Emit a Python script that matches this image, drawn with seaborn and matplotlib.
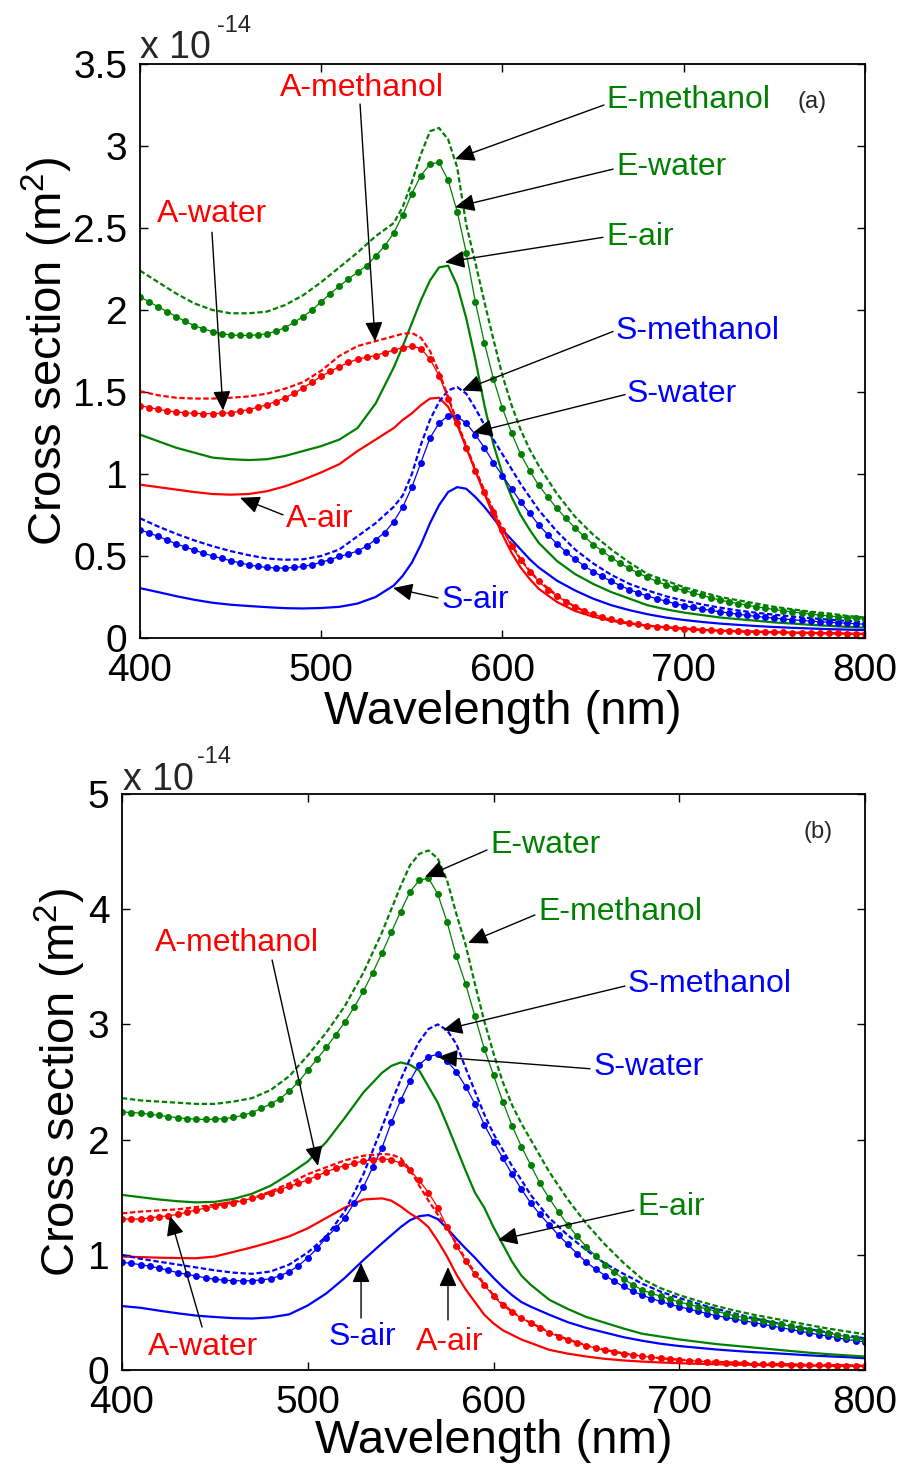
import numpy as np
import pandas as pd
import matplotlib
matplotlib.use("Agg")
import matplotlib.pyplot as plt
import seaborn as sns

# ---------------- data (cross section in units of 1e-14 m^2) ----------------
wl_fine = list(range(400, 801, 5))
wl_coarse = list(range(400, 541, 10)) + list(range(545, 621, 5)) + list(range(630, 801, 10))

# panel (a)
a_E_methanol = [2.24,2.17,2.10,2.04,2.00,1.98,1.98,1.99,2.03,2.09,2.17,2.26,2.35,2.45,2.53,
                2.63,2.78,2.95,3.09,3.11,3.04,2.87,2.52,2.29,2.05,1.82,1.60,1.42,1.27,1.15,1.05,
                0.88,0.74,0.63,0.54,0.46,0.39,0.35,0.31,0.28,0.25,0.23,0.21,0.19,0.175,0.16,0.15,0.135,0.125]
a_E_water = [2.08,2.05,2.02,1.99,1.96,1.93,1.905,1.885,1.868,1.856,
             1.848,1.845,1.845,1.848,1.856,1.87,1.893,1.925,1.96,2.00,
             2.05,2.10,2.145,2.19,2.23,2.27,2.33,2.39,2.47,2.58,
             2.71,2.82,2.89,2.90,2.79,2.60,2.35,2.05,1.80,1.58,
             1.40,1.25,1.12,1.02,0.93,0.86,0.79,0.73,0.67,0.62,
             0.57,0.53,0.49,0.455,0.425,0.395,0.37,0.345,0.325,0.305,
             0.29,0.275,0.26,0.245,0.232,0.22,0.21,0.20,0.19,0.182,
             0.174,0.166,0.159,0.152,0.146,0.14,0.134,0.129,0.124,0.119,
             0.115]
a_E_air = [1.24,1.20,1.16,1.13,1.10,1.09,1.085,1.09,1.11,1.14,1.17,1.21,1.28,1.43,1.65,
           1.78,1.92,2.06,2.18,2.26,2.27,2.15,1.95,1.70,1.42,1.18,1.00,0.86,0.75,0.66,0.58,
           0.47,0.39,0.33,0.28,0.24,0.20,0.175,0.155,0.14,0.125,0.115,0.105,0.095,0.088,0.08,0.074,0.068,0.063]
a_A_methanol = [1.505,1.48,1.465,1.46,1.46,1.465,1.473,1.49,1.52,1.56,1.63,1.72,1.78,1.81,1.84,
                1.855,1.86,1.83,1.75,1.62,1.47,1.32,1.17,1.03,0.90,0.78,0.67,0.57,0.48,0.41,0.35,
                0.26,0.19,0.14,0.11,0.09,0.075,0.065,0.057,0.05,0.045,0.041,0.038,0.035,0.033,0.031,0.029,0.027,0.025]
a_A_water = [1.417,1.405,1.395,1.385,1.378,1.373,1.37,1.368,1.368,1.37,
             1.373,1.382,1.393,1.407,1.423,1.442,1.464,1.492,1.525,1.56,
             1.596,1.626,1.654,1.68,1.70,1.712,1.722,1.74,1.755,1.77,
             1.78,1.765,1.70,1.60,1.46,1.31,1.16,1.02,0.89,0.77,
             0.66,0.56,0.475,0.405,0.345,0.295,0.255,0.222,0.19,0.165,
             0.145,0.128,0.113,0.101,0.091,0.083,0.076,0.07,0.065,0.061,
             0.057,0.053,0.05,0.047,0.045,0.043,0.041,0.039,0.037,0.036,
             0.035,0.034,0.033,0.032,0.031,0.03,0.029,0.028,0.027,0.026,
             0.025]
a_A_air = [0.935,0.92,0.905,0.89,0.878,0.874,0.878,0.895,0.925,0.965,1.01,1.06,1.14,1.21,1.28,
           1.33,1.37,1.42,1.46,1.465,1.41,1.30,1.16,1.02,0.88,0.75,0.63,0.52,0.43,0.36,0.30,
           0.22,0.165,0.13,0.105,0.088,0.075,0.065,0.057,0.05,0.045,0.041,0.038,0.035,0.033,0.031,0.029,0.027,0.025]
a_S_methanol = [0.73,0.68,0.635,0.595,0.56,0.53,0.505,0.485,0.477,0.48,0.50,0.54,0.62,0.70,0.80,
                0.87,1.00,1.18,1.33,1.44,1.51,1.53,1.49,1.40,1.30,1.21,1.12,1.03,0.94,0.86,0.78,
                0.65,0.54,0.455,0.385,0.33,0.29,0.255,0.228,0.205,0.185,0.168,0.154,0.142,0.131,0.121,0.112,0.104,0.097]
a_S_water = [0.66,0.64,0.62,0.597,0.574,0.555,0.535,0.517,0.50,0.485,
             0.472,0.458,0.446,0.437,0.43,0.427,0.426,0.43,0.436,0.447,
             0.462,0.478,0.497,0.512,0.53,0.56,0.60,0.643,0.71,0.80,
             0.92,1.07,1.22,1.31,1.355,1.35,1.31,1.24,1.16,1.07,
             0.99,0.91,0.83,0.76,0.69,0.63,0.575,0.525,0.48,0.44,
             0.405,0.375,0.345,0.32,0.295,0.275,0.255,0.24,0.225,0.21,
             0.198,0.187,0.177,0.168,0.16,0.152,0.145,0.138,0.132,0.126,
             0.121,0.116,0.111,0.107,0.103,0.099,0.096,0.093,0.09,0.087,
             0.084]
a_S_air = [0.304,0.28,0.255,0.233,0.215,0.203,0.195,0.188,0.182,0.18,0.183,0.19,0.21,0.25,0.32,
           0.38,0.46,0.57,0.70,0.81,0.89,0.92,0.91,0.86,0.80,0.73,0.66,0.60,0.54,0.48,0.43,
           0.35,0.29,0.24,0.20,0.17,0.145,0.125,0.11,0.098,0.088,0.08,0.073,0.067,0.062,0.058,0.054,0.051,0.048]

# panel (b)
b_E_methanol = [2.36,2.34,2.33,2.32,2.31,2.31,2.33,2.36,2.43,2.55,2.73,2.93,3.16,3.45,3.80,
                4.00,4.20,4.38,4.48,4.51,4.44,4.25,3.96,3.69,3.35,3.03,2.75,2.50,2.30,2.14,2.00,
                1.72,1.48,1.27,1.09,0.93,0.79,0.71,0.65,0.60,0.555,0.515,0.48,0.45,0.42,0.39,0.36,0.335,0.31]
b_E_water = [2.24,2.235,2.23,2.22,2.21,2.20,2.19,2.182,2.177,2.175,
             2.177,2.182,2.192,2.21,2.235,2.27,2.31,2.355,2.42,2.50,
             2.60,2.70,2.80,2.91,3.02,3.15,3.29,3.45,3.62,3.80,
             3.98,4.15,4.25,4.27,4.13,3.89,3.59,3.35,3.07,2.79,
             2.56,2.33,2.12,1.94,1.78,1.62,1.49,1.37,1.26,1.16,
             1.07,0.99,0.91,0.85,0.79,0.74,0.695,0.665,0.64,0.615,
             0.59,0.57,0.55,0.53,0.51,0.49,0.47,0.455,0.44,0.425,
             0.41,0.395,0.38,0.365,0.35,0.335,0.32,0.305,0.29,0.275,
             0.26]
b_E_air = [1.52,1.50,1.48,1.465,1.455,1.46,1.485,1.53,1.60,1.70,1.81,1.98,2.19,2.41,2.58,
           2.64,2.67,2.65,2.60,2.46,2.32,2.13,1.93,1.73,1.54,1.41,1.24,1.09,0.94,0.82,0.74,
           0.61,0.53,0.46,0.41,0.36,0.315,0.29,0.265,0.245,0.225,0.21,0.195,0.18,0.165,0.15,0.138,0.127,0.117]
b_A_methanol = [1.36,1.375,1.385,1.395,1.415,1.435,1.46,1.49,1.55,1.62,1.70,1.76,1.82,1.86,1.875,
                1.87,1.84,1.74,1.60,1.47,1.35,1.23,1.10,0.96,0.85,0.75,0.65,0.57,0.51,0.45,0.41,
                0.33,0.265,0.215,0.175,0.145,0.122,0.102,0.089,0.079,0.071,0.064,0.058,0.053,0.049,0.046,0.043,0.041,0.039]
b_A_water = [1.31,1.31,1.31,1.32,1.33,1.34,1.35,1.37,1.39,1.405,
             1.42,1.435,1.45,1.47,1.49,1.51,1.535,1.565,1.595,1.62,
             1.65,1.685,1.72,1.75,1.775,1.795,1.815,1.825,1.835,1.825,
             1.795,1.735,1.645,1.54,1.41,1.24,1.08,0.945,0.83,0.74,
             0.64,0.56,0.50,0.45,0.41,0.365,0.325,0.29,0.26,0.235,
             0.21,0.19,0.17,0.153,0.14,0.13,0.12,0.11,0.102,0.095,
             0.088,0.082,0.077,0.072,0.068,0.064,0.061,0.058,0.055,0.052,
             0.05,0.048,0.046,0.044,0.042,0.041,0.04,0.038,0.037,0.036,
             0.035]
b_A_air = [0.985,0.98,0.975,0.972,0.97,0.985,1.025,1.065,1.11,1.16,1.23,1.32,1.41,1.48,1.49,
           1.47,1.42,1.36,1.31,1.24,1.12,0.985,0.83,0.70,0.59,0.48,0.405,0.345,0.305,0.265,0.235,
           0.175,0.142,0.117,0.097,0.083,0.073,0.065,0.059,0.054,0.05,0.047,0.044,0.042,0.04,0.038,0.036,0.035,0.034]
b_S_methanol = [1.0,0.965,0.94,0.915,0.89,0.865,0.845,0.835,0.855,0.915,1.02,1.16,1.38,1.70,2.11,
                2.32,2.52,2.70,2.85,2.96,3.00,2.95,2.83,2.62,2.42,2.22,2.05,1.91,1.77,1.65,1.52,
                1.32,1.17,1.04,0.925,0.835,0.75,0.68,0.625,0.575,0.53,0.49,0.45,0.415,0.385,0.355,0.325,0.30,0.275]
b_S_water = [0.935,0.925,0.915,0.90,0.885,0.865,0.845,0.83,0.815,0.80,
             0.787,0.78,0.775,0.774,0.775,0.782,0.792,0.818,0.853,0.905,
             0.975,1.055,1.15,1.23,1.32,1.45,1.59,1.76,1.93,2.15,
             2.34,2.51,2.65,2.72,2.74,2.68,2.59,2.46,2.31,2.13,
             1.98,1.84,1.70,1.57,1.45,1.35,1.26,1.17,1.09,1.01,
             0.935,0.875,0.82,0.77,0.725,0.685,0.65,0.62,0.595,0.57,
             0.55,0.53,0.51,0.49,0.472,0.457,0.442,0.427,0.412,0.397,
             0.382,0.367,0.352,0.337,0.322,0.307,0.295,0.28,0.265,0.255,
             0.245]
b_S_air = [0.555,0.54,0.515,0.492,0.472,0.46,0.45,0.447,0.457,0.483,0.56,0.665,0.80,0.955,1.10,
           1.17,1.24,1.30,1.335,1.345,1.31,1.23,1.14,1.055,0.975,0.885,0.80,0.72,0.65,0.59,0.55,
           0.48,0.415,0.365,0.325,0.285,0.254,0.228,0.208,0.193,0.178,0.166,0.155,0.147,0.137,0.127,0.119,0.112,0.102]

x_ticks = [400, 500, 600, 700, 800]
x_ticklabels = ["400", "500", "600", "700", "800"]
a_y_ticks = [0, 0.5, 1, 1.5, 2, 2.5, 3, 3.5]
a_y_ticklabels = ["0", "0.5", "1", "1.5", "2", "2.5", "3", "3.5"]
b_y_ticks = [0, 1, 2, 3, 4, 5]
b_y_ticklabels = ["0", "1", "2", "3", "4", "5"]

GREEN = "#008000"
RED = "#FF0000"
BLUE = "#0000FF"

# ---------------- style ----------------
sns.set_theme(style="ticks")
plt.rcParams["font.family"] = ["Liberation Sans", "DejaVu Sans"]
plt.rcParams["mathtext.fontset"] = "custom"
plt.rcParams["mathtext.rm"] = "Liberation Sans"
plt.rcParams["mathtext.it"] = "Liberation Sans:italic"
plt.rcParams["axes.linewidth"] = 1.3

fig = plt.figure(figsize=(8.99, 14.68), dpi=100)
W, H = 899.0, 1468.0
ax1 = fig.add_axes([140 / W, 1 - 638 / H, 725 / W, 574 / H])
ax2 = fig.add_axes([122 / W, 1 - 1370 / H, 743 / W, 576 / H])

DASH = (0, (2.4, 1.2))


def draw(ax, x, y, color, kind):
    df = pd.DataFrame({"wl": x, "cs": y})
    if kind == "dash":
        sns.lineplot(data=df, x="wl", y="cs", ax=ax, color=color, linewidth=1.6,
                     linestyle=DASH, estimator=None, sort=False)
    elif kind == "dots":
        sns.lineplot(data=df, x="wl", y="cs", ax=ax, color=color, linewidth=0.9,
                     marker="o", markersize=5.0, markeredgewidth=0,
                     estimator=None, sort=False)
    else:
        sns.lineplot(data=df, x="wl", y="cs", ax=ax, color=color, linewidth=1.6,
                     estimator=None, sort=False)


series_a = [
    (wl_coarse, a_S_air, BLUE, "solid"),
    (wl_coarse, a_A_air, RED, "solid"),
    (wl_coarse, a_E_air, GREEN, "solid"),
    (wl_coarse, a_S_methanol, BLUE, "dash"),
    (wl_coarse, a_A_methanol, RED, "dash"),
    (wl_coarse, a_E_methanol, GREEN, "dash"),
    (wl_fine, a_S_water, BLUE, "dots"),
    (wl_fine, a_A_water, RED, "dots"),
    (wl_fine, a_E_water, GREEN, "dots"),
]
series_b = [
    (wl_coarse, b_S_air, BLUE, "solid"),
    (wl_coarse, b_A_air, RED, "solid"),
    (wl_coarse, b_E_air, GREEN, "solid"),
    (wl_coarse, b_S_methanol, BLUE, "dash"),
    (wl_coarse, b_A_methanol, RED, "dash"),
    (wl_coarse, b_E_methanol, GREEN, "dash"),
    (wl_fine, b_S_water, BLUE, "dots"),
    (wl_fine, b_A_water, RED, "dots"),
    (wl_fine, b_E_water, GREEN, "dots"),
]
for s in series_a:
    draw(ax1, *s)
for s in series_b:
    draw(ax2, *s)


def style_axes(ax, ylim, yticks, yticklabels, ylab_x, xlab_y):
    ax.set_xlim(400, 800)
    ax.set_ylim(*ylim)
    ax.set_xticks(x_ticks)
    ax.set_xticklabels(x_ticklabels)
    ax.set_yticks(yticks)
    ax.set_yticklabels(yticklabels)
    ax.tick_params(direction="in", length=6, width=1.0, top=True, right=True,
                   labelsize=28, colors="black")
    ax.tick_params(axis="x", pad=11)
    ax.tick_params(axis="y", pad=9)
    for sp in ax.spines.values():
        sp.set_visible(True)
        sp.set_color("black")
        sp.set_linewidth(1.3)
    ax.set_xlabel("Wavelength (nm)", fontsize=34, color="black")
    ax.set_ylabel("Cross section (m$^2$)", fontsize=34, color="black")
    ax.yaxis.set_label_coords(ylab_x, 0.5)
    ax.xaxis.set_label_coords(0.5, xlab_y)
    ax.grid(False)


style_axes(ax1, (0, 3.5), a_y_ticks, a_y_ticklabels, -0.09, -0.09)
style_axes(ax2, (0, 5), b_y_ticks, b_y_ticklabels, -0.046, -0.085)

# offset text "x 10^-14"
fig.text(140 / W, 1 - 58 / H, "x 10", fontsize=27, ha="left", va="baseline")
fig.text(217 / W, 1 - 32 / H, "-14", fontsize=17, ha="left", va="baseline")
fig.text(123 / W, 1 - 790 / H, "x 10", fontsize=27, ha="left", va="baseline")
fig.text(197 / W, 1 - 763 / H, "-14", fontsize=17, ha="left", va="baseline")

ARROW = dict(arrowstyle="-|>,head_length=0.6,head_width=0.27", color="black",
             lw=1.0, shrinkA=0, shrinkB=0, mutation_scale=20)

# (label, color, text x, text y, ha, tail x, tail y, tip x, tip y)
notes_a = [
    ("A-methanol", RED, 522.5, 3.354, "center", 521.4, 3.256, 529.7, 1.808),
    ("A-water", RED, 439.7, 2.584, "center", 439.7, 2.474, 445.8, 1.387),
    ("E-methanol", GREEN, 657.1, 3.280, "left", 656.0, 3.25, 573.8, 2.92),
    ("E-water", GREEN, 662.6, 2.871, "left", 661.0, 2.859, 573.8, 2.627),
    ("E-air", GREEN, 657.1, 2.443, "left", 655.4, 2.443, 568.3, 2.291),
    ("S-methanol", BLUE, 662.1, 1.869, "left", 661.0, 1.869, 577.7, 1.509),
    ("S-water", BLUE, 668.7, 1.49, "left", 667.6, 1.484, 583.7, 1.252),
    ("A-air", RED, 480.6, 0.727, "left", 478.9, 0.751, 455.2, 0.855),
    ("S-air", BLUE, 566.1, 0.232, "left", 564.4, 0.244, 539.6, 0.305),
]
notes_b = [
    ("E-water", GREEN, 598.1, 4.557, "left", 596.5, 4.514, 563.1, 4.28),
    ("E-methanol", GREEN, 624.0, 3.976, "left", 622.3, 3.95, 586.3, 3.707),
    ("S-methanol", BLUE, 672.4, 3.351, "left", 670.8, 3.333, 572.8, 2.951),
    ("S-water", BLUE, 653.6, 2.63, "left", 652.0, 2.615, 570.1, 2.717),
    ("E-air", GREEN, 677.3, 1.415, "left", 675.6, 1.389, 602.4, 1.128),
    ("A-methanol", RED, 461.9, 3.707, "center", 480.8, 3.559, 505.5, 1.771),
    ("A-water", RED, 443.6, 0.20, "center", 443.1, 0.373, 425.8, 1.337),
    ("S-air", BLUE, 529.2, 0.286, "center", 528.7, 0.451, 528.7, 0.929),
    ("A-air", RED, 576.6, 0.243, "center", 575.5, 0.434, 575.5, 0.894),
]
for ax, notes in ((ax1, notes_a), (ax2, notes_b)):
    for lab, col, tx, ty, ha, ax0, ay0, ax1_, ay1_ in notes:
        ax.annotate("", xy=(ax1_, ay1_), xytext=(ax0, ay0), arrowprops=ARROW)
        ax.text(tx, ty, lab, color=col, fontsize=23, ha=ha, va="center")

ax1.text(770.8, 3.268, "(a)", fontsize=17, ha="center", va="center")
ax2.text(774.7, 4.67, "(b)", fontsize=17, ha="center", va="center")

fig.savefig("out.png", dpi=100)
